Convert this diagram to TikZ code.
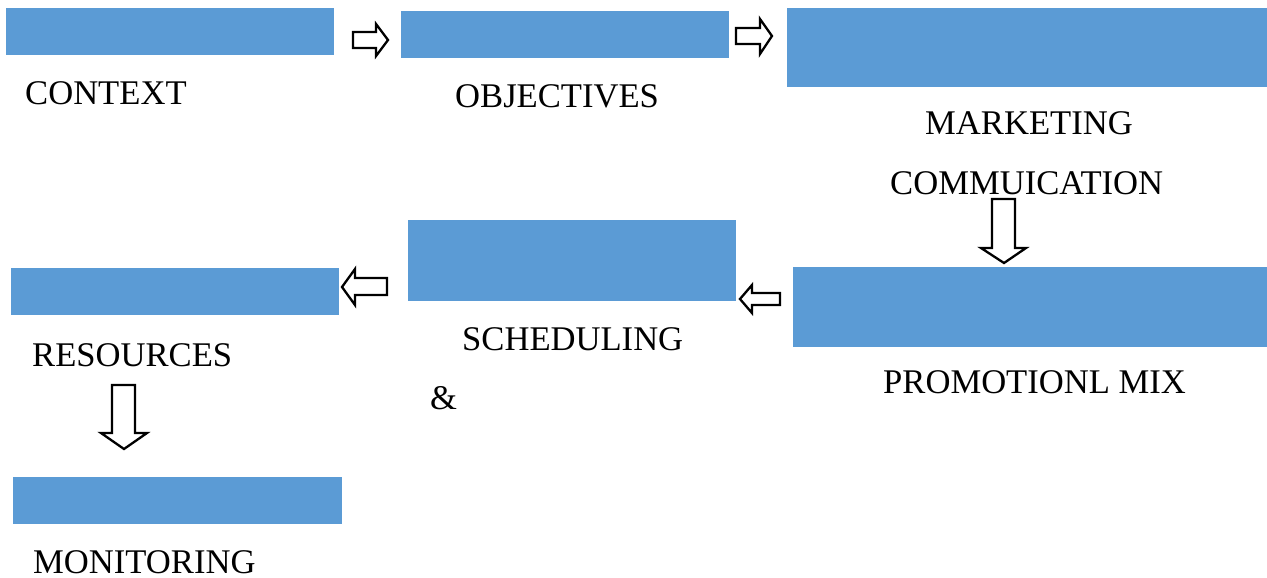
\documentclass[tikz,border=0pt]{standalone}
\usepackage{fontspec}
\setmainfont{Liberation Serif}
\definecolor{boxblue}{HTML}{5B9BD5}
\begin{document}
\begin{tikzpicture}[x=1pt,y=-1pt,
  box/.style={fill=boxblue,draw=none,anchor=north west,inner sep=0pt},
  lbl/.style={anchor=base west,inner sep=0pt,font=\fontsize{34.6}{40}\selectfont},
  blockarrow/.style={draw=black,fill=white,line width=2.3pt,line join=miter}]
\useasboundingbox (0,0) rectangle (1267,578);
% boxes
\node[box,minimum width=328pt,minimum height=47pt] (context) at (6,8) {};
\node[box,minimum width=328pt,minimum height=47pt] (objectives) at (401,11) {};
\node[box,minimum width=480pt,minimum height=79pt] (marketing) at (787,8) {};
\node[box,minimum width=474pt,minimum height=80pt] (promo) at (793,267) {};
\node[box,minimum width=328pt,minimum height=81pt] (sched) at (408,220) {};
\node[box,minimum width=328pt,minimum height=47pt] (resources) at (11,268) {};
\node[box,minimum width=329pt,minimum height=47pt] (monitoring) at (13,477) {};
% labels
\node[lbl] (tcontext) at (25,105) {CONTEXT};
\node[lbl] (tobj) at (455,107) {OBJECTIVES};
\node[lbl] (tmark) at (925,135) {MARKETING};
\node[lbl] (tcomm) at (890,194) {COMMUICATION};
\node[lbl] (tpromo) at (883,393) {PROMOTIONL MIX};
\node[lbl] (tsched) at (462,350) {SCHEDULING};
\node[lbl] (tamp) at (430,409) {\&};
\node[lbl] (tres) at (32,366) {RESOURCES};
\node[lbl] (tmon) at (33,573) {MONITORING};
% block arrows
\draw[blockarrow] (353,32) -- (376,32) -- (376,24) -- (388,40) -- (376,56) -- (376,48) -- (353,48) -- cycle;
\draw[blockarrow] (736,28) -- (760,28) -- (760,19) -- (772,36) -- (760,54) -- (760,44) -- (736,44) -- cycle;
\draw[blockarrow] (992,199) -- (1015,199) -- (1015,248) -- (1026,248) -- (1004,263) -- (981,248) -- (992,248) -- cycle;
\draw[blockarrow] (780,293) -- (752,293) -- (752,285) -- (740,299) -- (752,313) -- (752,305) -- (780,305) -- cycle;
\draw[blockarrow] (387,278) -- (355,278) -- (355,269) -- (342,287) -- (355,305) -- (355,295) -- (387,295) -- cycle;
\draw[blockarrow] (112,385) -- (135,385) -- (135,433) -- (147,433) -- (124,449) -- (101,433) -- (112,433) -- cycle;
\end{tikzpicture}
\end{document}
